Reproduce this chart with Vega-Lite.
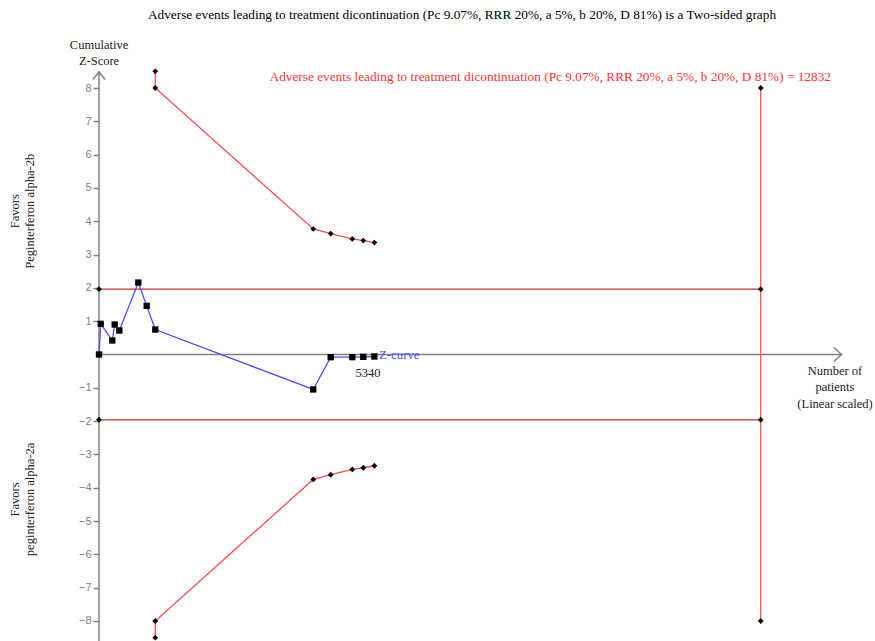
{
  "$schema": "https://vega.github.io/schema/vega-lite/v6.json",
  "width": 875,
  "height": 641,
  "autosize": {"type": "none"},
  "padding": 0,
  "background": "white",
  "config": {"view": {"stroke": null}, "text": {"font": "Liberation Serif", "fontSize": 12}},
  "datasets": {
    "zcurve": [
      {"n": 0, "z": 0}, {"n": 33, "z": 0.92}, {"n": 258, "z": 0.42}, {"n": 304, "z": 0.9},
      {"n": 394, "z": 0.72}, {"n": 762, "z": 2.16}, {"n": 925, "z": 1.46}, {"n": 1091, "z": 0.75},
      {"n": 4155, "z": -1.05}, {"n": 4493, "z": -0.08}, {"n": 4912, "z": -0.08}, {"n": 5125, "z": -0.07},
      {"n": 5340, "z": -0.06}
    ],
    "upper": [
      {"i": 1, "n": 1091, "z": 8.5}, {"i": 2, "n": 1091, "z": 8.0}, {"i": 3, "n": 4155, "z": 3.77},
      {"i": 4, "n": 4493, "z": 3.63}, {"i": 5, "n": 4912, "z": 3.47}, {"i": 6, "n": 5125, "z": 3.42},
      {"i": 7, "n": 5340, "z": 3.36}
    ],
    "lower": [
      {"i": 1, "n": 1091, "z": -8.5}, {"i": 2, "n": 1091, "z": -8.0}, {"i": 3, "n": 4155, "z": -3.75},
      {"i": 4, "n": 4493, "z": -3.61}, {"i": 5, "n": 4912, "z": -3.45}, {"i": 6, "n": 5125, "z": -3.40},
      {"i": 7, "n": 5340, "z": -3.34}
    ],
    "conv": [
      {"n": 0, "z": 1.96, "n2": 12832}, {"n": 0, "z": -1.96, "n2": 12832}
    ],
    "ris": [{"n": 12832, "z": -8, "z2": 8}],
    "risPts": [
      {"n": 12832, "z": 8}, {"n": 12832, "z": 1.96}, {"n": 12832, "z": -1.96}, {"n": 12832, "z": -8},
      {"n": 0, "z": 1.96}, {"n": 0, "z": -1.96}
    ]
  },
  "encoding": {
    "x": {"field": "n", "type": "quantitative", "scale": {"domain": [-1920, 15048], "nice": false, "zero": false}, "axis": null},
    "y": {"field": "z", "type": "quantitative", "scale": {"domain": [-8.601, 10.642], "nice": false, "zero": false},
      "axis": {"orient": "left", "offset": -99, "domain": false, "grid": false, "title": null,
        "values": [-8, -7, -6, -5, -4, -3, -2, -1, 1, 2, 3, 4, 5, 6, 7, 8],
        "tickColor": "#808080", "tickSize": 6, "tickWidth": 1.5, "labelColor": "#808080",
        "labelFont": "Liberation Sans", "labelFontSize": 11, "labelPadding": 2}}
  },
  "layer": [
    {
      "data": {"values": [{"n": 0, "z": -8.601, "z2": 8.48}]},
      "mark": {"type": "rule", "color": "#808080", "strokeWidth": 1.5},
      "encoding": {"y2": {"field": "z2"}}
    },
    {
      "data": {"values": [{"n": 0, "z": 0, "n2": 14400}]},
      "mark": {"type": "rule", "color": "#808080", "strokeWidth": 1.5},
      "encoding": {"x2": {"field": "n2"}}
    },
    {
      "data": {"values": [{"n": 0, "z": 8.48}]},
      "mark": {"type": "point", "shape": "M-1,1.25L0,0L1,1.25", "size": 144, "filled": false, "stroke": "#808080", "strokeWidth": 1.5, "opacity": 1}
    },
    {
      "data": {"values": [{"n": 14400, "z": 0}]},
      "mark": {"type": "point", "shape": "M-1.1,-1L0,0L-1.1,1", "size": 196, "filled": false, "stroke": "#808080", "strokeWidth": 1.5, "opacity": 1}
    },
    {
      "data": {"name": "conv"},
      "mark": {"type": "rule", "color": "#cc3333", "strokeWidth": 1.3},
      "encoding": {"x2": {"field": "n2"}}
    },
    {
      "data": {"name": "ris"},
      "mark": {"type": "rule", "color": "#ff4d4d", "strokeWidth": 1.3},
      "encoding": {"y2": {"field": "z2"}}
    },
    {
      "data": {"name": "upper"},
      "mark": {"type": "line", "color": "#ff4d4d", "strokeWidth": 1.3},
      "encoding": {"order": {"field": "i", "type": "quantitative"}}
    },
    {
      "data": {"name": "lower"},
      "mark": {"type": "line", "color": "#ff4d4d", "strokeWidth": 1.3},
      "encoding": {"order": {"field": "i", "type": "quantitative"}}
    },
    {
      "data": {"name": "upper"},
      "mark": {"type": "point", "shape": "diamond", "size": 34, "filled": true, "color": "black", "opacity": 1}
    },
    {
      "data": {"name": "lower"},
      "mark": {"type": "point", "shape": "diamond", "size": 34, "filled": true, "color": "black", "opacity": 1}
    },
    {
      "data": {"name": "risPts"},
      "mark": {"type": "point", "shape": "diamond", "size": 34, "filled": true, "color": "black", "opacity": 1}
    },
    {
      "data": {"name": "zcurve"},
      "mark": {"type": "line", "color": "#4d4dff", "strokeWidth": 1.3},
      "encoding": {"order": {"field": "n", "type": "quantitative"}}
    },
    {
      "data": {"name": "zcurve"},
      "mark": {"type": "point", "shape": "square", "size": 40, "filled": true, "color": "black", "opacity": 1}
    },
    {
      "data": {"values": [{"n": 7039, "z": 10.19, "label": "Adverse events leading to treatment dicontinuation (Pc 9.07%, RRR 20%, a 5%, b 20%, D 81%) is a Two-sided graph"}]},
      "mark": {"type": "text", "align": "center", "baseline": "middle", "fontSize": 13.3, "color": "black"},
      "encoding": {"text": {"field": "label"}}
    },
    {
      "data": {"values": [{"n": 14194, "z": 8.33, "label": "Adverse events leading to treatment dicontinuation (Pc 9.07%, RRR 20%, a 5%, b 20%, D 81%) = 12832"}]},
      "mark": {"type": "text", "align": "right", "baseline": "middle", "fontSize": 13.3, "color": "#ff3333"},
      "encoding": {"text": {"field": "label"}}
    },
    {
      "data": {"values": [
        {"n": 0, "z": 9.29, "label": "Cumulative"},
        {"n": 0, "z": 8.81, "label": "Z-Score"},
        {"n": 5216, "z": -0.555, "label": "5340"},
        {"n": 14272, "z": -0.495, "label": "Number of"},
        {"n": 14272, "z": -0.976, "label": "patients"},
        {"n": 14272, "z": -1.487, "label": "(Linear scaled)"}
      ]},
      "mark": {"type": "text", "align": "center", "baseline": "middle", "fontSize": 12.5, "color": "#222222"},
      "encoding": {"text": {"field": "label"}}
    },
    {
      "data": {"values": [{"n": 5430, "z": -0.015, "label": "Z-curve"}]},
      "mark": {"type": "text", "align": "left", "baseline": "middle", "fontSize": 12.8, "color": "#4d4dff"},
      "encoding": {"text": {"field": "label"}}
    },
    {
      "data": {"values": [
        {"n": -1629, "z": 4.3, "label": "Favors"},
        {"n": -1338, "z": 4.3, "label": "Peginterferon alpha-2b"},
        {"n": -1629, "z": -4.35, "label": "Favors"},
        {"n": -1338, "z": -4.35, "label": "peginterferon alpha-2a"}
      ]},
      "mark": {"type": "text", "align": "center", "baseline": "middle", "angle": 270, "fontSize": 12.5, "color": "#222222"},
      "encoding": {"text": {"field": "label"}}
    }
  ]
}
